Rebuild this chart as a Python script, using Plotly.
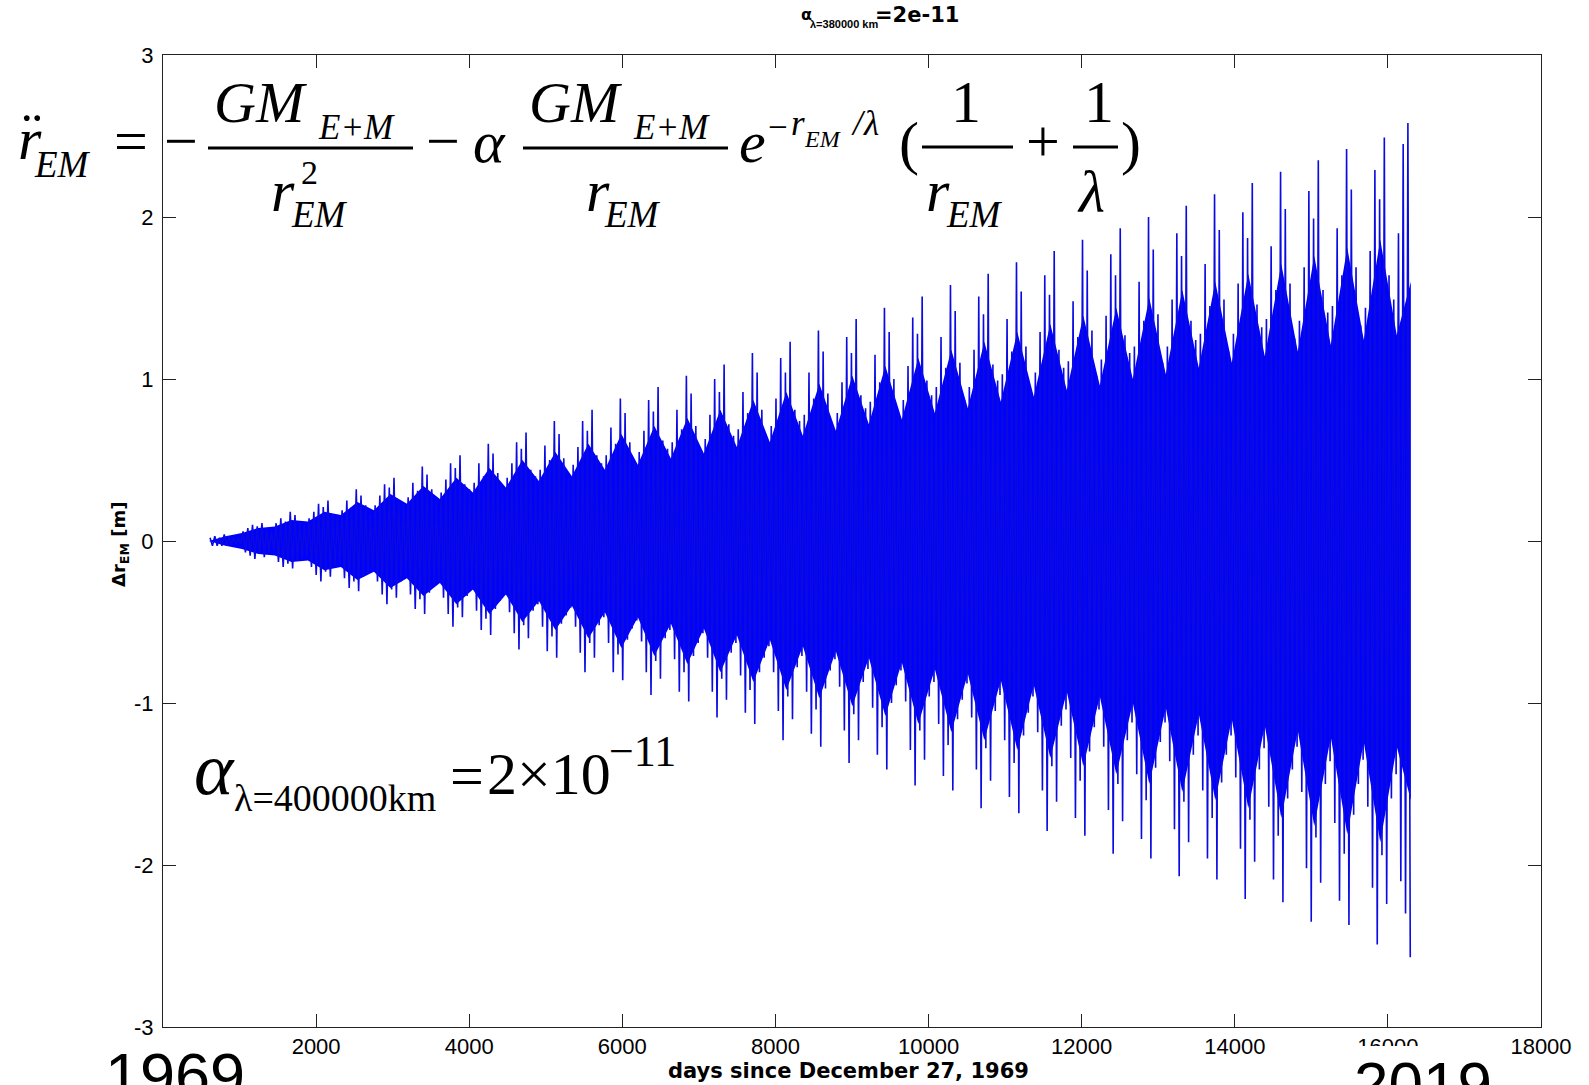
import plotly.graph_objects as go

# ---------------- canvas / plot-area geometry (pixels) ----------------
W, H = 1589, 1085
L, R, T, B = 163, 1541, 55, 1027
PW, PH = R - L, B - T

# ---------------- data ----------------
first_day = 615.0          # first sampled maximum (days since 27 Dec 1969)
half_cycle_days = 30.8     # spacing between a maximum and the following minimum

# successive maxima of delta r_EM [m]
top_peaks = [
    0.02, 0.03, 0.02, 0.04, 0.03, 0.02, 0.02,
    0.06, 0.08, 0.10, 0.09, 0.11, 0.07, 0.06,
    0.11, 0.14, 0.12, 0.18, 0.16, 0.12, 0.10,
    0.14, 0.18, 0.23, 0.21, 0.25, 0.16, 0.15,
    0.19, 0.25, 0.21, 0.32, 0.28, 0.22, 0.17,
    0.22, 0.28, 0.35, 0.33, 0.39, 0.25, 0.23,
    0.27, 0.36, 0.31, 0.46, 0.41, 0.32, 0.25,
    0.30, 0.38, 0.48, 0.45, 0.53, 0.35, 0.32,
    0.36, 0.48, 0.40, 0.60, 0.54, 0.42, 0.33,
    0.39, 0.48, 0.61, 0.57, 0.67, 0.44, 0.40,
    0.44, 0.59, 0.50, 0.74, 0.66, 0.51, 0.40,
    0.47, 0.58, 0.74, 0.68, 0.81, 0.53, 0.48,
    0.53, 0.70, 0.60, 0.88, 0.79, 0.61, 0.48,
    0.55, 0.68, 0.87, 0.80, 0.95, 0.62, 0.57,
    0.61, 0.81, 0.69, 1.02, 0.91, 0.71, 0.56,
    0.63, 0.78, 1.00, 0.92, 1.09, 0.72, 0.65,
    0.69, 0.92, 0.79, 1.16, 1.04, 0.81, 0.64,
    0.71, 0.88, 1.13, 1.04, 1.23, 0.81, 0.74,
    0.78, 1.04, 0.88, 1.30, 1.17, 0.91, 0.71,
    0.79, 0.98, 1.26, 1.16, 1.37, 0.90, 0.82,
    0.86, 1.15, 0.98, 1.44, 1.29, 1.00, 0.79,
    0.87, 1.08, 1.38, 1.28, 1.51, 0.99, 0.90,
    0.95, 1.26, 1.07, 1.58, 1.42, 1.10, 0.87,
    0.95, 1.18, 1.51, 1.40, 1.65, 1.09, 0.99,
    1.03, 1.37, 1.17, 1.72, 1.54, 1.20, 0.94,
    1.04, 1.29, 1.64, 1.52, 1.79, 1.18, 1.07,
    1.11, 1.48, 1.26, 1.86, 1.67, 1.30, 1.02,
    1.12, 1.39, 1.77, 1.64, 1.93, 1.27, 1.16,
    1.20, 1.60, 1.36, 2.00, 1.80, 1.40, 1.10,
    1.20, 1.49, 1.90, 1.76, 2.07, 1.36, 1.24,
    1.28, 1.71, 1.45, 2.14, 1.92, 1.49, 1.17,
    1.28, 1.59, 2.03, 1.87, 2.21, 1.46, 1.32,
    1.37, 1.82, 1.55, 2.28, 2.05, 1.59, 1.25,
    1.36, 1.69, 2.16, 1.99, 2.35, 1.55, 1.41,
    1.45, 1.93, 1.64, 2.42, 2.17, 1.69, 1.33,
    1.44, 1.79, 2.29, 2.11, 2.49, 1.64, 1.49,
    1.90, 2.45, 2.58,
]

# successive minima of delta r_EM [m]
bottom_peaks = [
    -0.03, -0.03, -0.03, -0.03, -0.02, -0.02, -0.02,
    -0.07, -0.09, -0.11, -0.08, -0.10, -0.07, -0.06,
    -0.13, -0.16, -0.14, -0.17, -0.12, -0.11, -0.10,
    -0.16, -0.21, -0.25, -0.19, -0.22, -0.16, -0.14,
    -0.23, -0.29, -0.25, -0.31, -0.22, -0.20, -0.18,
    -0.25, -0.33, -0.39, -0.30, -0.35, -0.25, -0.22,
    -0.33, -0.42, -0.36, -0.45, -0.32, -0.28, -0.25,
    -0.35, -0.45, -0.53, -0.41, -0.47, -0.34, -0.30,
    -0.43, -0.55, -0.48, -0.58, -0.42, -0.37, -0.33,
    -0.44, -0.57, -0.67, -0.52, -0.60, -0.43, -0.39,
    -0.53, -0.68, -0.59, -0.72, -0.51, -0.46, -0.41,
    -0.53, -0.69, -0.81, -0.63, -0.72, -0.52, -0.47,
    -0.63, -0.81, -0.70, -0.86, -0.61, -0.54, -0.49,
    -0.62, -0.81, -0.95, -0.74, -0.85, -0.60, -0.55,
    -0.73, -0.93, -0.81, -0.99, -0.71, -0.63, -0.57,
    -0.72, -0.93, -1.09, -0.85, -0.98, -0.69, -0.63,
    -0.83, -1.06, -0.92, -1.13, -0.81, -0.72, -0.65,
    -0.81, -1.05, -1.23, -0.96, -1.10, -0.78, -0.71,
    -0.93, -1.19, -1.04, -1.27, -0.91, -0.80, -0.73,
    -0.90, -1.17, -1.37, -1.07, -1.23, -0.87, -0.79,
    -1.03, -1.32, -1.15, -1.41, -1.00, -0.89, -0.80,
    -0.99, -1.29, -1.51, -1.17, -1.35, -0.96, -0.87,
    -1.13, -1.45, -1.26, -1.54, -1.10, -0.98, -0.88,
    -1.09, -1.41, -1.65, -1.28, -1.48, -1.05, -0.95,
    -1.23, -1.58, -1.37, -1.68, -1.20, -1.06, -0.96,
    -1.18, -1.54, -1.79, -1.39, -1.61, -1.14, -1.04,
    -1.34, -1.71, -1.48, -1.82, -1.30, -1.15, -1.04,
    -1.27, -1.66, -1.93, -1.50, -1.73, -1.23, -1.12,
    -1.44, -1.84, -1.60, -1.96, -1.40, -1.24, -1.12,
    -1.36, -1.78, -2.07, -1.61, -1.86, -1.32, -1.20,
    -1.54, -1.96, -1.71, -2.09, -1.49, -1.32, -1.20,
    -1.46, -1.90, -2.21, -1.72, -1.98, -1.41, -1.28,
    -1.64, -2.09, -1.82, -2.23, -1.59, -1.41, -1.27,
    -1.55, -2.02, -2.35, -1.83, -2.11, -1.50, -1.36,
    -1.74, -2.22, -1.93, -2.37, -1.69, -1.50, -1.35,
    -1.64, -2.14, -2.49, -1.94, -2.24, -1.59, -1.44,
    -2.10, -2.30, -2.57,
]

# half-width of the solid (densely over-plotted) core of the oscillation [m]
core_start_day = 600.0
core_step_days = 215.5
core_end_day = 16300.0
core_half_width = [
    0.00, 0.03, 0.05, 0.08, 0.09, 0.13, 0.12, 0.18, 0.16, 0.24,
    0.19, 0.29, 0.23, 0.34, 0.26, 0.39, 0.30, 0.45, 0.33, 0.50,
    0.37, 0.55, 0.40, 0.60, 0.44, 0.66, 0.47, 0.71, 0.51, 0.76,
    0.54, 0.81, 0.58, 0.87, 0.61, 0.92, 0.65, 0.97, 0.68, 1.02,
    0.72, 1.08, 0.75, 1.13, 0.79, 1.18, 0.82, 1.23, 0.86, 1.29,
    0.89, 1.34, 0.93, 1.39, 0.96, 1.44, 1.00, 1.50, 1.03, 1.55,
    1.07, 1.60, 1.10, 1.65, 1.14, 1.71, 1.17, 1.76, 1.21, 1.81,
    1.24, 1.86, 1.27, 1.60,
]

x_tick_vals = [2000, 4000, 6000, 8000, 10000, 12000, 14000, 16000, 18000]
x_tick_text = ["2000", "4000", "6000", "8000", "10000", "12000", "14000", "16000", "18000"]
y_tick_vals = [-3, -2, -1, 0, 1, 2, 3]
y_tick_text = ["-3", "-2", "-1", "0", "1", "2", "3"]

# ---------------- build traces ----------------
osc_x, osc_y = [], []
for k, (hi, lo) in enumerate(zip(top_peaks, bottom_peaks)):
    osc_x += [first_day + 2 * k * half_cycle_days, first_day + (2 * k + 1) * half_cycle_days]
    osc_y += [hi, lo]

core_days = [core_start_day + core_step_days * k for k in range(len(core_half_width) - 1)] + [core_end_day]
poly_x = core_days + core_days[::-1]
poly_y = core_half_width + [-v for v in core_half_width[::-1]]

fig = go.Figure()
fig.add_trace(go.Scatter(x=poly_x, y=poly_y, fill="toself", fillcolor="rgb(0,0,255)",
                         line=dict(width=0), mode="lines", hoverinfo="skip", showlegend=False))
fig.add_trace(go.Scatter(x=osc_x, y=osc_y, mode="lines",
                         line=dict(color="rgb(10,10,225)", width=1.6, simplify=False),
                         hoverinfo="skip", showlegend=False))


# ---------------- helpers for pixel placement of text ----------------
def px(x):
    return (x - L) / PW


def py(y):
    return (B - y) / PH


SERIF = "Liberation Serif, Times New Roman, serif"
SANS = "Liberation Sans, Arial, sans-serif"
DEJA = "DejaVu Sans, Verdana, sans-serif"


def txt(text, x, base, size, family=SERIF, italic=False, bold=False, desc=0.216):
    return dict(text=text, xref="paper", yref="paper", x=px(x), y=py(base + desc * size),
                xanchor="left", yanchor="bottom", showarrow=False, borderpad=0,
                font=dict(family=family, size=size, color="black",
                          style="italic" if italic else "normal",
                          weight="bold" if bold else "normal"))


formula_parts = [
    ("r", 17, 160, 60, True), ("\u00a8", 21, 154, 60, False), ("EM", 33, 178, 37, True),
    ("=", 113, 162, 60, False), ("\u2212", 163, 162, 60, False),
    ("GM", 213, 123, 58, True), ("E+M", 317, 140, 35, True),
    ("r", 270, 212, 60, True), ("2", 300, 185, 34, False), ("EM", 290, 228, 37, True),
    ("\u2212", 425, 162, 60, False), ("\u03b1", 472, 163, 60, True),
    ("GM", 528, 123, 58, True), ("E+M", 632, 140, 35, True),
    ("r", 585, 212, 60, True), ("EM", 603, 228, 37, True),
    ("e", 738, 163, 60, True), ("\u2212", 767, 140, 35, False), ("r", 790, 136, 35, True),
    ("EM", 803, 148, 24, True), ("/", 850, 136, 35, True), ("\u03bb", 862, 136, 35, True),
    ("(", 898, 164, 60, False), ("1", 950, 123, 60, False),
    ("r", 925, 212, 60, True), ("EM", 945, 228, 37, True),
    ("+", 1025, 162, 60, False), ("1", 1083, 123, 60, False),
    ("\u03bb", 1076, 213, 60, True), (")", 1120, 164, 60, False),
    # alpha statement
    ("\u03b1", 193, 795, 75, True), ("\u03bb=400000km", 233, 812, 38, False),
    ("=", 449, 797, 60, False), ("2\u00d710", 486, 795, 60, False),
    ("\u221211", 608, 767, 44, False),
]

annotations = [txt(t, x, b, s, italic=it) for (t, x, b, s, it) in formula_parts]

# big year labels (partly cut by the bottom edge)
annotations.append(txt("1969", 104, 1098, 63, family=SANS, desc=0.212))
annotations.append(txt("2019", 1353, 1106, 62, family=SANS, desc=0.212))

# title pieces
annotations.append(txt("\u03b1", 800, 21, 16, family=DEJA, bold=True, desc=0.236))
annotations.append(txt("\u03bb=380000 km", 809, 29, 11, family=SANS, bold=True, desc=0.212))
annotations.append(txt("=2e-11", 874, 23, 21, family=DEJA, bold=True, desc=0.236))

# x label
annotations.append(dict(text="<b>days since December 27, 1969</b>", xref="paper", yref="paper",
                        x=px(848), y=py(1079 + 0.236 * 21), xanchor="center", yanchor="bottom",
                        showarrow=False, borderpad=0,
                        font=dict(family=DEJA, size=21, color="black")))
# y label
annotations.append(dict(text="<b>\u0394r<sub>EM</sub> [m]</b>", xref="paper", yref="paper",
                        x=px(120), y=py(545), xanchor="center", yanchor="middle", textangle=-90,
                        showarrow=False, borderpad=0,
                        font=dict(family=DEJA, size=18, color="black")))

# fraction bars
bars = [(208, 413, 148), (523, 728, 148), (922, 1013, 147), (1073, 1118, 147)]
shapes = [dict(type="line", xref="paper", yref="paper", x0=px(a), x1=px(b), y0=py(y), y1=py(y),
               line=dict(color="black", width=3), layer="above") for (a, b, y) in bars]
# white text box of "2019" hiding the lower half of the 16000 label
shapes.append(dict(type="rect", xref="paper", yref="paper", x0=px(1340), x1=px(1500),
                   y0=py(1085), y1=py(1046), fillcolor="white", line=dict(width=0), layer="above"))

axis_common = dict(showgrid=False, zeroline=False, showline=True, mirror="ticks",
                   linecolor="#222", linewidth=1, ticks="inside", ticklen=13, tickwidth=1,
                   tickcolor="#222", tickfont=dict(family=SANS, size=22, color="black"))

fig.update_layout(
    width=W, height=H,
    margin=dict(l=L, r=W - R, t=T, b=H - B, pad=0),
    paper_bgcolor="white", plot_bgcolor="white",
    showlegend=False,
    xaxis=dict(range=[0, 18000], tickvals=x_tick_vals, ticktext=x_tick_text,
               ticklabelstandoff=0, **axis_common),
    yaxis=dict(range=[-3, 3], tickvals=y_tick_vals, ticktext=y_tick_text, ticklabelstandoff=4,
               **axis_common),
    annotations=annotations,
    shapes=shapes,
)

fig.write_html("out.html", config={"displayModeBar": False},
               post_script="document.body.style.margin='0px';")
